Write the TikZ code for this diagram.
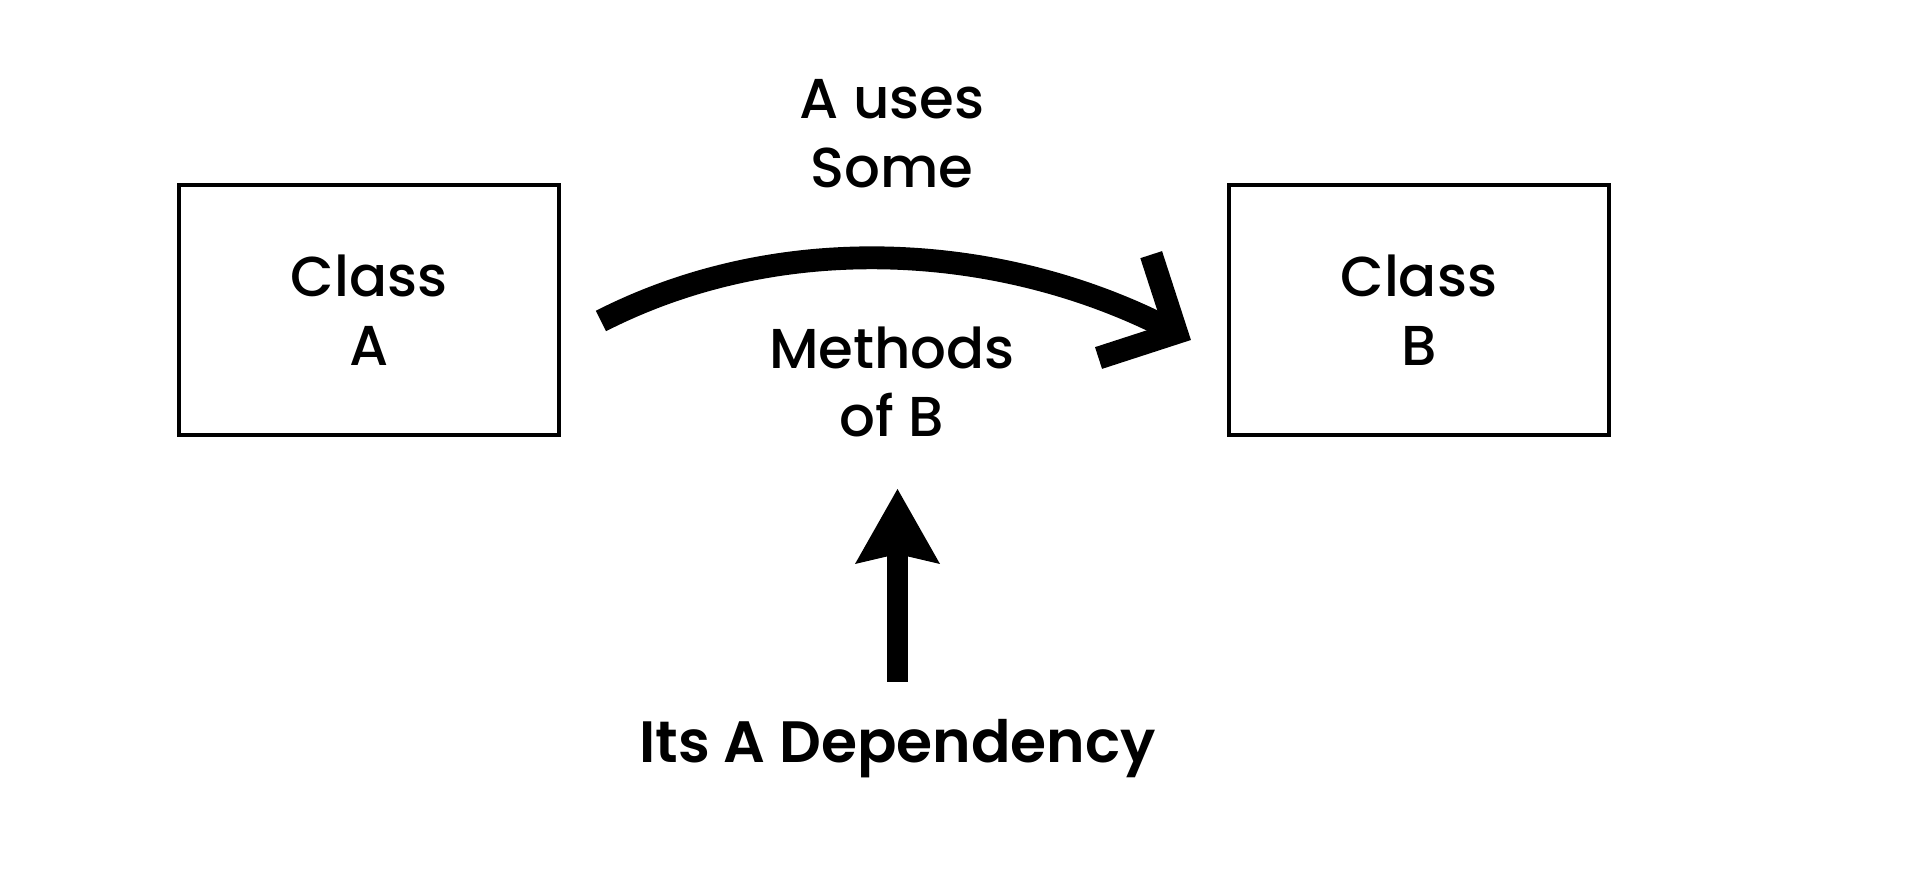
\documentclass[tikz,border=0pt]{standalone}
\usepackage{fontspec}
\setmainfont{Poppins}[UprightFont=* Medium,BoldFont=* SemiBold]
\usetikzlibrary{arrows.meta,positioning}
\begin{document}
\begin{tikzpicture}[line width=1.1pt,
		classbox/.style={draw,minimum width=3.8cm,minimum height=2.5cm,align=center,font=\fontsize{16}{19.6}\selectfont},
		lbl/.style={align=center,font=\fontsize{16}{19.6}\selectfont},
		usesarrow/.style={line width=6.5pt,-{Straight Barb[length=0.58cm,width=1.16cm]}},
		deparrow/.style={line width=6pt,-{Stealth[length=0.75cm,width=0.85cm,inset=0.1cm,line width=0pt]}}]
	\useasboundingbox (0,0) rectangle (19.16,-8.9);
	\node[classbox] (clsA) at (3.69,-3.1) {Class\\A};
	\node[classbox,right=6.66cm of clsA] (clsB) {Class\\B};
	\node[lbl] (usesTxt) at (8.92,-1.34) {A uses\\Some};
	\node[lbl] (methodsTxt) at (8.92,-3.82) {Methods\\of B};
	\node[font=\fontsize{16.6}{20}\selectfont\bfseries,inner sep=0pt,anchor=base] (depTxt) at (8.975,-7.63) {Its A Dependency};
	\coordinate (depTip) at (8.975,-4.89);
	\draw[usesarrow] ([shift={(0.4,-0.11)}]clsA.east) to[out=27,in=153,looseness=0.9] ([shift={(-0.36,-0.3)}]clsB.west);
	\draw[deparrow,shorten <=0.36cm] (depTxt.north) -- (depTip);
\end{tikzpicture}
\end{document}
